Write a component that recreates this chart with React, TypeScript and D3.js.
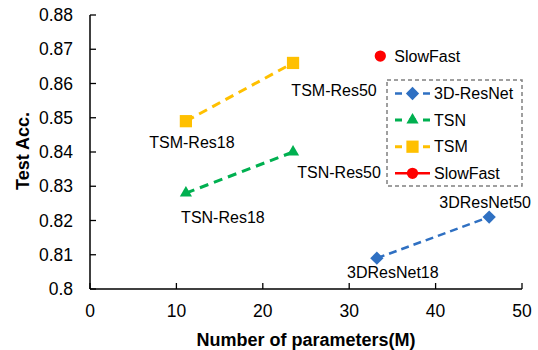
import { useEffect, useRef } from "react";
import * as d3 from "d3";

// Data
const seriesNames = ["3D-ResNet", "TSN", "TSM", "SlowFast"];
const resnetParams = [33.2, 46.2];
const resnetAcc = [0.809, 0.821];
const resnetLabels = ["3DResNet18", "3DResNet50"];
const tsnParams = [11.1, 23.5];
const tsnAcc = [0.828, 0.84];
const tsnLabels = ["TSN-Res18", "TSN-Res50"];
const tsmParams = [11.1, 23.5];
const tsmAcc = [0.849, 0.866];
const tsmLabels = ["TSM-Res18", "TSM-Res50"];
const slowfastParams = [33.6];
const slowfastAcc = [0.868];
const slowfastLabels = ["SlowFast"];
const xTicks = [0, 10, 20, 30, 40, 50];
const yTicks = [0.8, 0.81, 0.82, 0.83, 0.84, 0.85, 0.86, 0.87, 0.88];

const FONT = "'Liberation Sans', Arial, sans-serif";

const App: React.FC = () => {
    const svgRef = useRef<SVGSVGElement | null>(null);

    useEffect(() => {
        if (!svgRef.current) return;
        const svg = d3.select(svgRef.current);
        svg.selectAll("*").remove();

        const x = d3.scaleLinear().domain([0, 50]).range([90, 522]);
        const y = d3.scaleLinear().domain([0.8, 0.88]).range([289, 15]);

        const series = [
            { name: seriesNames[0], xs: resnetParams, ys: resnetAcc, labels: resnetLabels, color: "#2F70C2", dash: "8,5", width: 2.5, symbol: "diamond",
              offs: [[16, 14], [-4, -15]], anchor: "middle" },
            { name: seriesNames[1], xs: tsnParams, ys: tsnAcc, labels: tsnLabels, color: "#00B050", dash: "9,6", width: 3, symbol: "triangle",
              offs: [[37, 24], [46, 20]], anchor: "middle" },
            { name: seriesNames[2], xs: tsmParams, ys: tsmAcc, labels: tsmLabels, color: "#FFC000", dash: "9,6", width: 3, symbol: "square",
              offs: [[6, 21], [41, 27]], anchor: "middle" },
            { name: seriesNames[3], xs: slowfastParams, ys: slowfastAcc, labels: slowfastLabels, color: "#FF0000", dash: null, width: 2.5, symbol: "circle",
              offs: [[14, 0]], anchor: "start" },
        ];

        const symbolPath = (kind: string) => {
            if (kind === "diamond") return d3.symbol(d3.symbolSquare, 88)();
            if (kind === "triangle") return d3.symbol(d3.symbolTriangle, 64)();
            if (kind === "square") return d3.symbol(d3.symbolSquare, 150)();
            return d3.symbol(d3.symbolCircle, 100)();
        };
        const symbolRotate = (kind: string) => (kind === "diamond" ? 45 : 0);

        // Axes
        const axisG = svg.append("g");
        axisG.append("line")
            .attr("x1", x(0)).attr("x2", x(0)).attr("y1", y(0.88)).attr("y2", y(0.8))
            .attr("stroke", "#000").attr("stroke-width", 1.5);
        axisG.append("line")
            .attr("x1", x(0)).attr("x2", x(50)).attr("y1", y(0.8)).attr("y2", y(0.8))
            .attr("stroke", "#000").attr("stroke-width", 1.5);

        yTicks.forEach(t => {
            axisG.append("line")
                .attr("x1", x(0)).attr("x2", x(0) + 6).attr("y1", y(t)).attr("y2", y(t))
                .attr("stroke", "#000").attr("stroke-width", 1.3);
            axisG.append("text")
                .attr("x", 73).attr("y", y(t)).attr("dy", "0.35em")
                .attr("text-anchor", "end")
                .style("font-family", FONT).style("font-size", "17.5px").attr("fill", "#000")
                .text(d3.format("")(+t.toFixed(2)));
        });
        xTicks.forEach(t => {
            axisG.append("line")
                .attr("x1", x(t)).attr("x2", x(t)).attr("y1", y(0.8)).attr("y2", y(0.8) - 6)
                .attr("stroke", "#000").attr("stroke-width", 1.3);
            axisG.append("text")
                .attr("x", x(t)).attr("y", 311).attr("dy", "0.35em")
                .attr("text-anchor", "middle")
                .style("font-family", FONT).style("font-size", "17.5px").attr("fill", "#000")
                .text(String(t));
        });

        // Axis titles
        svg.append("text")
            .attr("x", 306).attr("y", 340).attr("dy", "0.35em")
            .attr("text-anchor", "middle")
            .style("font-family", FONT).style("font-size", "18px").style("font-weight", "bold")
            .text("Number of parameters(M)");
        svg.append("text")
            .attr("transform", "translate(23,151) rotate(-90)")
            .attr("dy", "0.35em")
            .attr("text-anchor", "middle")
            .style("font-family", FONT).style("font-size", "18px").style("font-weight", "bold")
            .text("Test Acc.");

        // Series
        series.forEach(s => {
            const pts = s.xs.map((v, i) => [x(v), y(s.ys[i])] as [number, number]);
            if (pts.length > 1) {
                svg.append("path")
                    .attr("d", d3.line()(pts))
                    .attr("fill", "none")
                    .attr("stroke", s.color)
                    .attr("stroke-width", s.width)
                    .attr("stroke-dasharray", s.dash);
            }
            pts.forEach((p, i) => {
                svg.append("path")
                    .attr("d", symbolPath(s.symbol))
                    .attr("transform", `translate(${p[0]},${p[1]}) rotate(${symbolRotate(s.symbol)})`)
                    .attr("fill", s.color);
                svg.append("text")
                    .attr("x", p[0] + s.offs[i][0]).attr("y", p[1] + s.offs[i][1]).attr("dy", "0.35em")
                    .attr("text-anchor", s.anchor)
                    .style("font-family", FONT).style("font-size", "16px").attr("fill", "#000")
                    .text(s.labels[i]);
            });
        });

        // Legend
        const legend = svg.append("g");
        legend.append("rect")
            .attr("x", 387).attr("y", 80).attr("width", 135).attr("height", 106)
            .attr("fill", "#fff").attr("stroke", "#808080").attr("stroke-width", 1.5)
            .attr("stroke-dasharray", "4,3");
        series.forEach((s, i) => {
            const cy = 93.5 + i * 26.6;
            legend.append("line")
                .attr("x1", 395).attr("x2", 430).attr("y1", cy).attr("y2", cy)
                .attr("stroke", s.color).attr("stroke-width", s.width)
                .attr("stroke-dasharray", s.dash ? "7,7" : null);
            legend.append("path")
                .attr("d", symbolPath(s.symbol))
                .attr("transform", `translate(412.5,${cy}) rotate(${symbolRotate(s.symbol)})`)
                .attr("fill", s.color);
            legend.append("text")
                .attr("x", 434).attr("y", cy).attr("dy", "0.35em")
                .style("font-family", FONT).style("font-size", "16px").attr("fill", "#000")
                .text(s.name);
        });
    }, []);

    return (
        <svg ref={svgRef} width={538} height={350}
            style={{ position: "absolute", left: 0, top: 0, background: "#fff" }} />
    );
};

export default App;
